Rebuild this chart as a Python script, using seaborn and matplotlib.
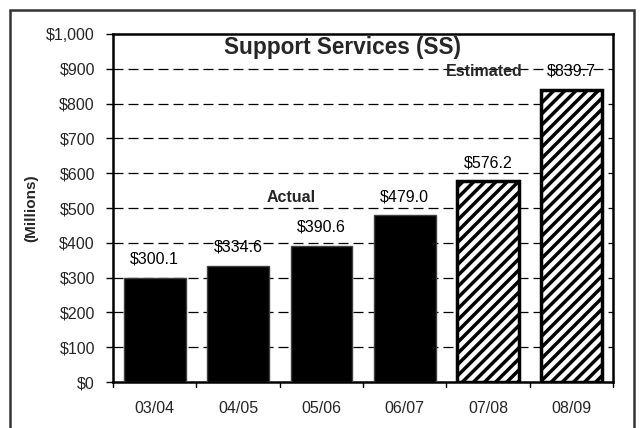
import matplotlib
matplotlib.use("Agg")
import matplotlib.pyplot as plt
import seaborn as sns
import pandas as pd
from matplotlib.patches import Rectangle

periods = ["03/04", "04/05", "05/06", "06/07", "07/08", "08/09"]
values = [300.1, 334.6, 390.6, 479.0, 576.2, 839.7]
status = ["Actual", "Actual", "Actual", "Actual", "Estimated", "Estimated"]
y_ticks = [0, 100, 200, 300, 400, 500, 600, 700, 800, 900, 1000]

df = pd.DataFrame({"period": periods, "value": values, "status": status})

sns.set_style("white")
plt.rcParams["font.family"] = ["Liberation Sans", "DejaVu Sans"]
plt.rcParams["hatch.linewidth"] = 2.5

fig = plt.figure(figsize=(6.42, 4.28), dpi=100)
ax = fig.add_axes([113 / 642, 1 - 382 / 428, 500 / 642, 348 / 428])

sns.barplot(data=df, x="period", y="value", color="black", width=0.74,
            edgecolor="#404040", linewidth=1.0, saturation=1, ax=ax, zorder=3)

for patch, st in zip(ax.patches, df["status"]):
    if st == "Estimated":
        patch.set_facecolor("white")
        patch.set_hatch("///")
        patch.set_edgecolor("black")
        patch.set_linewidth(2.5)

for i, v in enumerate(values):
    ax.text(i, v + 54, f"${v:,.1f}", ha="center", va="center",
            fontsize=11.5, color="black", zorder=4)

ax.set_ylim(0, 1000)
ax.set_xlim(-0.5, len(periods) - 0.5)
ax.set_yticks(y_ticks)
ax.set_yticklabels([f"${t:,}" for t in y_ticks], fontsize=11.5)
ax.set_xticks(range(len(periods)))
ax.set_xticklabels(periods, fontsize=11.5)
ax.tick_params(axis="x", length=0, pad=14)
ax.tick_params(axis="y", left=True, length=5, width=1, color="black", pad=8)

# category boundary ticks along the x axis
for b in [i + 0.5 for i in range(-1, len(periods))]:
    ax.plot([b, b], [0, -0.015], transform=ax.get_xaxis_transform(),
            color="black", lw=1, clip_on=False)

for t in y_ticks[1:-1]:
    ax.axhline(t, color="black", lw=0.9, ls=(0, (8, 4)), zorder=1)

for s in ax.spines.values():
    s.set_visible(True)
    s.set_color("black")
    s.set_linewidth(1.8)

ax.set_xlabel("")
ax.set_ylabel("(Millions)", fontsize=11, fontweight="bold", labelpad=6)

ax.text(2.26, 960, "Support Services (SS)", ha="center", va="center",
        fontsize=16.3, fontweight="bold", zorder=5)
ax.text(1.64, 530, "Actual", ha="center", va="center",
        fontsize=11.5, fontweight="bold", zorder=5)
ax.text(3.95, 891, "Estimated", ha="center", va="center",
        fontsize=11.5, fontweight="bold", zorder=5)

# outer frame around the chart
fig.patches.append(Rectangle((10 / 642, -0.05), 624 / 642, 1 - 10 / 428 + 0.05,
                             transform=fig.transFigure, fill=False,
                             edgecolor="#333333", lw=1.8))

fig.savefig("out.png", dpi=100, facecolor="white")
